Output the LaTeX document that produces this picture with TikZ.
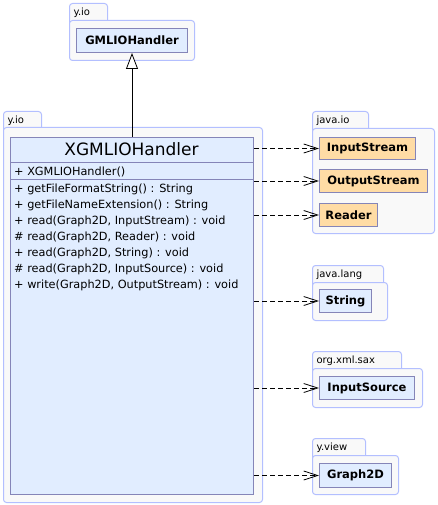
\documentclass[tikz,border=0pt]{standalone}
\usepackage{fontspec}
\setsansfont{DejaVu Sans}
\usetikzlibrary{arrows.meta, positioning}

\definecolor{pkgfill}{HTML}{F9F9F9}
\definecolor{pkgline}{HTML}{B3BFFF}
\definecolor{clsfill}{HTML}{E1EDFF}
\definecolor{clsline}{HTML}{8585B8}
\definecolor{extfill}{HTML}{FFDCA5}

\begin{document}
\begin{tikzpicture}[x=1pt, y=-1pt,
        pkg/.style={draw=pkgline, fill=pkgfill, line width=1pt, rounded corners=3pt, anchor=north west, inner sep=0pt},
        tab/.style={pkg, font=\sffamily\fontsize{10}{12}\selectfont, text width=#1, align=left,
            inner xsep=4pt, inner ysep=2pt, text height=10pt, text depth=8pt},
        cls/.style={draw=clsline, fill=clsfill, line width=1pt, anchor=north west, inner sep=0pt,
            font=\sffamily\bfseries\fontsize{11.5}{14}\selectfont},
        ext/.style={cls, fill=extfill},
        member/.style={anchor=base west, inner sep=0pt, font=\sffamily\fontsize{11.3}{13}\selectfont},
        dep/.style={-{Straight Barb[length=14pt, width=9pt]}, dash pattern=on 5pt off 3pt, line width=0.8pt},
        inherit/.style={-{Triangle[open, length=16pt, width=12pt, fill=white]}, line width=0.8pt}
    ]
        \useasboundingbox (0,0) rectangle (437,505);

        % Pakete
        \node[tab=30pt] (tabio1) at (69,3) {y.io};
        \node[pkg, minimum width=125, minimum height=40] (pkgio1) at (69,20) {};
        \node[tab=30pt] (tabio2) at (3,111) {y.io};
        \node[pkg, minimum width=259, minimum height=375] (pkgio2) at (3,127) {};
        \node[tab=48pt] (tabjio) at (312,111) {java.io};
        \node[pkg, minimum width=122, minimum height=105] (pkgjio) at (312,128) {};
        \node[tab=63pt] (tablang) at (312,265) {java.lang};
        \node[pkg, minimum width=75, minimum height=38] (pkglang) at (312,282) {};
        \node[tab=81pt] (tabsax) at (312,351) {org.xml.sax};
        \node[pkg, minimum width=110, minimum height=39] (pkgsax) at (312,368) {};
        \node[tab=45pt] (tabview) at (312,438) {y.view};
        \node[pkg, minimum width=86, minimum height=39] (pkgview) at (312,455) {};

        % Klassen
        \node[cls, minimum width=111, minimum height=24] (gml) at (76,28) {GMLIOHandler};
        \node[ext, minimum width=96, minimum height=22] (inst) at (319,137) {InputStream};
        \node[ext, minimum width=108, minimum height=23] (outst) at (319,169) {OutputStream};
        \node[ext, minimum width=58, minimum height=23] (reader) at (319,203) {Reader};
        \node[cls, minimum width=52, minimum height=23] (string) at (319,289) {String};
        \node[cls, minimum width=95, minimum height=23] (insrc) at (319,376) {InputSource};
        \node[cls, minimum width=72, minimum height=24] (graph) at (319,463) {Graph2D};

        % Hauptklasse
        \node[cls, minimum width=243, minimum height=357] (xgml) at (10,137) {};
        \node[font=\sffamily\fontsize{17}{19}\selectfont, anchor=base] (title) at (131.5,156) {XGMLIOHandler};
        \draw[clsline, line width=1pt] (xgml.west |- 0,162) -- (xgml.east |- 0,162);
        \draw[clsline, line width=1pt] (xgml.west |- 0,179) -- (xgml.east |- 0,179);
        \node[member] (ctor) at (14,175.5) {+ XGMLIOHandler()};
        \foreach \txt [count=\i] in {{+ getFileFormatString() : String},
                {+ getFileNameExtension() : String},
                {+ read(Graph2D, InputStream) : void},
                {\# read(Graph2D, Reader) : void},
                {+ read(Graph2D, String) : void},
                {\# read(Graph2D, InputSource) : void},
                {+ write(Graph2D, OutputStream) : void}}
            \node[member] (m\i) at (14,176.5+16*\i) {\txt};

        % Beziehungen
        \draw[inherit] (xgml.north) -- (gml.south);
        \foreach \t in {inst, outst, reader, string, insrc, graph}
            \draw[dep] (xgml.east |- \t.west) -- (\t.west);
    \end{tikzpicture}
\end{document}
